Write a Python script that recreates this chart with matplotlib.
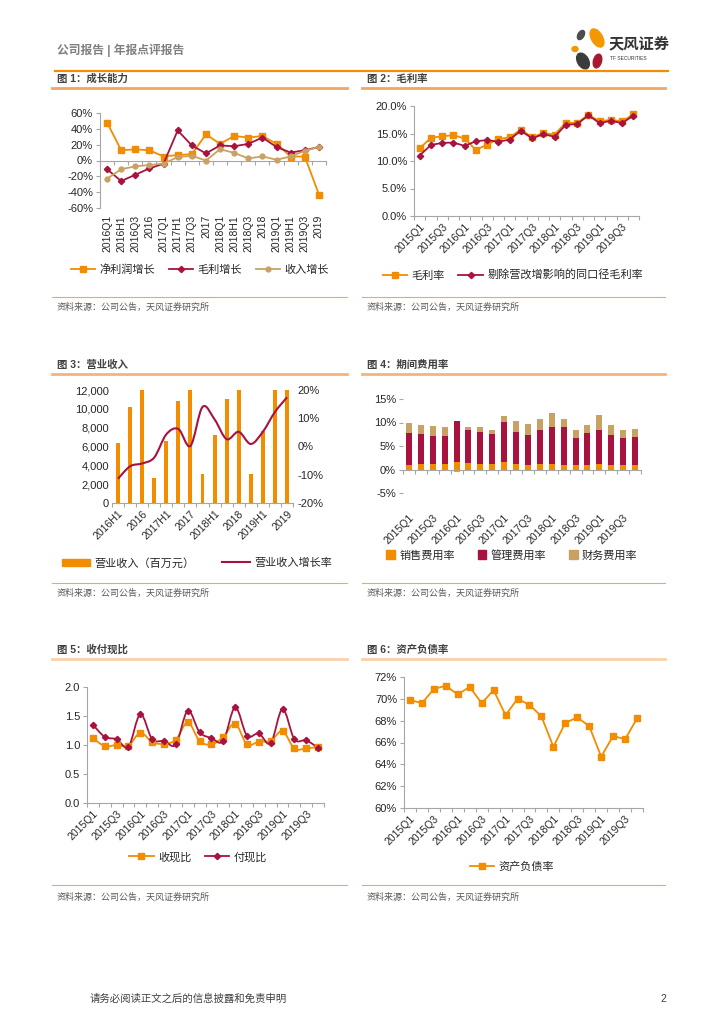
import numpy as np
import matplotlib
matplotlib.use('Agg')
import matplotlib.pyplot as plt
from matplotlib.lines import Line2D
from matplotlib.patches import Ellipse, PathPatch, Patch
from matplotlib.path import Path
from matplotlib.ticker import FuncFormatter

plt.rcParams['font.family'] = ['Liberation Sans', 'Noto Sans CJK SC']

W, H = 724, 1024
ORANGE = '#F28C00'
RED = '#A8123E'
TAN = '#C9A163'
AXIS = '#A6A6A6'
TXT = '#262626'
LINE = '#F4A460'

# ---------------- data ----------------
growth_cats = ['2016Q1', '2016H1', '2016Q3', '2016', '2017Q1', '2017H1', '2017Q3', '2017',
               '2018Q1', '2018H1', '2018Q3', '2018', '2019Q1', '2019H1', '2019Q3', '2019']
net_profit_growth = [48, 13, 14, 13, 5, 7, 8, 33, 21, 31, 29, 31, 21, 5, 5, -43]
gross_profit_growth = [-11, -26, -18, -10, -4, 38, 19, 9, 19, 18, 21, 29, 17, 10, 13, 17]
revenue_growth = [-23, -11, -7.4, -5.7, -3.9, 4.3, 6, 0, 14.3, 9.6, 2.6, 5.2, 0.9, 5.2, 12.2, 17.4]

quarters = ['2015Q1', '2015Q2', '2015Q3', '2015Q4', '2016Q1', '2016Q2', '2016Q3', '2016Q4',
            '2017Q1', '2017Q2', '2017Q3', '2017Q4', '2018Q1', '2018Q2', '2018Q3', '2018Q4',
            '2019Q1', '2019Q2', '2019Q3', '2019Q4']
gross_margin = [12.3, 14.2, 14.5, 14.7, 14.1, 12.0, 13.0, 14.0, 14.3, 15.7,
                14.3, 15.1, 14.8, 17.0, 16.9, 18.4, 17.2, 17.5, 17.2, 18.5]
gross_margin_adj = [11.0, 12.9, 13.3, 13.35, 12.75, 13.6, 13.8, 13.5, 13.9, 15.5,
                    14.1, 14.9, 14.4, 16.6, 16.7, 18.3, 16.9, 17.3, 16.9, 18.25]

rev_cats = ['2016H1', '2016Q3', '2016', '2017Q1', '2017H1', '2017Q3', '2017', '2018Q1',
            '2018H1', '2018Q3', '2018', '2019Q1', '2019H1', '2019Q3', '2019']
revenue = [6350, 10200, 12000, 2630, 6570, 10800, 12000, 3050, 7200, 11050, 12000, 3050, 7650, 12000, 12000]
revenue_rate = [-11.4, -7.0, -6.0, -3.9, 4.3, 6.2, 0.2, 14.0, 9.6, 2.6, 5.2, 0.9, 5.2, 12.2, 17.4]

sales_exp = [1.0, 1.25, 1.2, 1.1, 1.55, 1.3, 1.2, 1.1, 1.5, 1.1,
             1.0, 1.1, 1.1, 0.9, 0.9, 0.9, 1.1, 0.9, 0.9, 0.9]
admin_exp = [6.75, 6.2, 5.9, 6.0, 8.75, 7.15, 6.7, 6.4, 8.55, 6.9,
             6.4, 7.35, 8.0, 8.2, 5.85, 6.8, 7.3, 6.4, 5.85, 5.95]
fin_exp = [2.2, 2.05, 2.2, 2.0, -0.5, 0.65, 1.2, 0.95, 1.25, 2.4,
           2.3, 2.4, 2.9, 1.75, 1.7, 1.8, 3.2, 2.2, 1.75, 1.85]

cash_in_ratio = [1.12, 0.98, 1.0, 0.99, 1.21, 1.05, 1.02, 1.09, 1.39, 1.07,
                 1.01, 1.14, 1.37, 1.01, 1.06, 1.07, 1.24, 0.94, 0.94, 0.97]
cash_out_ratio = [1.35, 1.14, 1.10, 0.97, 1.53, 1.10, 1.07, 1.01, 1.59, 1.22,
                  1.12, 1.07, 1.65, 1.16, 1.20, 1.03, 1.62, 1.10, 1.08, 0.95]

debt_ratio = [69.9, 69.6, 70.9, 71.2, 70.4, 71.1, 69.6, 70.8, 68.5, 70.0,
              69.45, 68.4, 65.6, 67.8, 68.3, 67.5, 64.7, 66.6, 66.3, 68.2]

fig = plt.figure(figsize=(W / 100, H / 100), dpi=100)


def fx(x):
    return x / W


def fy(y):
    return 1 - y / H


def add_ax(x0, y0, x1, y1):
    return fig.add_axes([x0 / W, 1 - y1 / H, (x1 - x0) / W, (y1 - y0) / H])


def hline(x0, x1, y, color, lw):
    fig.add_artist(Line2D([fx(x0), fx(x1)], [fy(y), fy(y)], color=color, lw=lw,
                          transform=fig.transFigure))


def smooth_path(xs, ys):
    # Excel-like smoothed line as cubic bezier segments through the points
    verts = [(xs[0], ys[0])]
    codes = [Path.MOVETO]
    n = len(xs)
    for i in range(n - 1):
        a = max(i - 1, 0)
        b = min(i + 2, n - 1)
        c1 = (xs[i] + (xs[i + 1] - xs[a]) / 6, ys[i] + (ys[i + 1] - ys[a]) / 6)
        c2 = (xs[i + 1] - (xs[b] - xs[i]) / 6, ys[i + 1] - (ys[b] - ys[i]) / 6)
        verts += [c1, c2, (xs[i + 1], ys[i + 1])]
        codes += [Path.CURVE4] * 3
    return Path(verts, codes)


def base_style(ax, n, left=True):
    for s in ['top', 'right']:
        ax.spines[s].set_visible(False)
    ax.spines['left'].set_visible(left)
    ax.spines['left'].set_color(AXIS)
    ax.spines['bottom'].set_color(AXIS)
    ax.spines['left'].set_linewidth(0.8)
    ax.spines['bottom'].set_linewidth(0.8)
    ax.set_xlim(-0.5, n - 0.5)
    ax.tick_params(axis='y', colors=AXIS, labelcolor=TXT, labelsize=8, length=3, width=0.8, pad=2)
    ax.tick_params(axis='x', which='major', length=0, labelsize=7.5, labelcolor=TXT)
    ax.tick_params(axis='x', which='minor', length=3, color=AXIS, width=0.8)
    ax.set_xticks(np.arange(-0.5, n, 1), minor=True)
    ax.set_facecolor('none')


def zero_axis(ax, n, frac):
    ax.spines['bottom'].set_visible(False)
    ax.tick_params(axis='x', which='minor', length=0)
    sec = ax.secondary_xaxis(frac)
    sec.set_alignment('bottom')
    sec.set_xticks(np.arange(-0.5, n, 1))
    sec.set_xticklabels([])
    sec.tick_params(length=3, color=AXIS, width=0.8)
    sec.spines['bottom'].set_color(AXIS)
    sec.spines['bottom'].set_linewidth(0.8)


def rot45(ax, idx, labels, pad=4):
    ax.set_xticks(idx)
    ax.set_xticklabels(labels, rotation=45, ha='right', rotation_mode='anchor')
    ax.tick_params(axis='x', which='major', pad=pad)


def legend(handles, labels, cx, cy, ncol, **kw):
    opts = dict(loc='center', bbox_to_anchor=(fx(cx), fy(cy)), ncol=ncol, frameon=False,
                fontsize=8, handlelength=2.2, columnspacing=1.2, handletextpad=0.4,
                borderaxespad=0)
    opts.update(kw)
    leg = fig.legend(handles, labels, **opts)
    for t in leg.get_texts():
        t.set_color(TXT)


pct0 = FuncFormatter(lambda v, p: f'{v:.0f}%')
pct1 = FuncFormatter(lambda v, p: f'{v:.1f}%')

# ---------------- page frame ----------------
fig.text(fx(57), fy(50), '公司报告 | 年报点评报告', fontsize=8.5, color='#7F7F7F',
         fontweight='bold', va='center')
hline(55, 668, 71, ORANGE, 1.6)

logo = fig.add_axes([fx(565), fy(72), fx(45), 47 / H])
logo.set_xlim(565, 610)
logo.set_ylim(72, 25)
logo.axis('off')
for (cx, cy, w, h, ang, col) in [(597, 38, 11, 20, -30, '#F39800'), (597.5, 61, 8, 14, 15, '#A6192E'),
                                 (583, 61, 11, 17, -30, '#3C3C3C'), (581, 35, 6, 10, 30, '#4D4D4D'),
                                 (575, 49, 6, 5, 0, '#F39800')]:
    logo.add_patch(Ellipse((cx, cy), w, h, angle=ang, color=col))
fig.text(fx(609), fy(44), '天风证券', fontsize=11, color='#333333', fontweight='bold', va='center')
fig.text(fx(610), fy(58), 'TF SECURITIES', fontsize=3.5, color='#333333', va='center')

titles = [['图 1：成长能力', '图 2：毛利率'], ['图 3：营业收入', '图 4：期间费用率'],
          ['图 5：收付现比', '图 6：资产负债率']]
rows = [(79, 88, 297, 307), (365, 374, 583, 593), (650, 659, 885, 897)]
title_cols = ['#F4A460', '#F7B27A', '#FAD0AA']
for r, (ty, tl, sl, sy) in enumerate(rows):
    for c, (x0, x1) in enumerate([(52, 347), (362, 665)]):
        fig.text(fx(x0 + 5), fy(ty), titles[r][c], fontsize=7.5, color='#404040',
                 fontweight='bold', va='center')
        hline(x0, x1, tl, title_cols[r], 2.0)
        hline(x0, x1, sl, LINE, 0.8)
        fig.text(fx(x0 + 5), fy(sy), '资料来源：公司公告，天风证券研究所', fontsize=6.5,
                 color='#595959', va='center')

fig.text(fx(90), fy(999), '请务必阅读正文之后的信息披露和免责申明', fontsize=7.5, color='#404040', va='center')
fig.text(fx(666), fy(999), '2', fontsize=7.5, color='#404040', va='center', ha='right')

# ---------------- chart 1 ----------------
ax1 = add_ax(100, 113, 326, 208)
n1 = len(growth_cats)
x1 = np.arange(n1)
base_style(ax1, n1)
ax1.set_ylim(-60, 60)
ax1.set_yticks(np.arange(-60, 61, 20))
ax1.yaxis.set_major_formatter(pct0)
zero_axis(ax1, n1, 0.5)
ax1.plot(x1, net_profit_growth, color=ORANGE, lw=1.3, marker='s', ms=4.5)
ax1.plot(x1, gross_profit_growth, color=RED, lw=1.3, marker='D', ms=3.2)
ax1.plot(x1, revenue_growth, color=TAN, lw=1.3, marker='o', ms=3.5)
ax1.set_xticks(x1)
ax1.set_xticklabels(growth_cats, rotation=90)
ax1.tick_params(axis='x', which='major', pad=5)
legend([Line2D([], [], color=ORANGE, lw=1.3, marker='s', ms=4.5),
        Line2D([], [], color=RED, lw=1.3, marker='D', ms=3.2),
        Line2D([], [], color=TAN, lw=1.3, marker='o', ms=3.5)],
       ['净利润增长', '毛利增长', '收入增长'], 200, 270, 3)

# ---------------- chart 2 ----------------
ax2 = add_ax(414, 106, 639, 216)
nq = len(quarters)
xq = np.arange(nq)
base_style(ax2, nq)
ax2.set_ylim(0, 20)
ax2.set_yticks(np.arange(0, 20.1, 5))
ax2.yaxis.set_major_formatter(pct1)
ax2.plot(xq, gross_margin, color=ORANGE, lw=1.3, marker='s', ms=4.5)
ax2.plot(xq, gross_margin_adj, color=RED, lw=1.3, marker='D', ms=3.2)
rot45(ax2, xq[::2], quarters[::2])
legend([Line2D([], [], color=ORANGE, lw=1.3, marker='s', ms=4.5),
        Line2D([], [], color=RED, lw=1.3, marker='D', ms=3.2)],
       ['毛利率', '剔除营改增影响的同口径毛利率'], 513, 275, 2)

# ---------------- chart 3 ----------------
ax3 = add_ax(112, 390, 293, 503)
n3 = len(rev_cats)
x3 = np.arange(n3)
base_style(ax3, n3, left=False)
ax3.tick_params(axis='y', length=0)
ax3.set_ylim(0, 12000)
ax3.set_yticks(np.arange(0, 12001, 2000))
ax3.yaxis.set_major_formatter(FuncFormatter(lambda v, p: f'{v:,.0f}'))
ax3.bar(x3, revenue, width=0.33, color=ORANGE)
rot45(ax3, x3[::2], rev_cats[::2])
ax3b = ax3.twinx()
ax3b.set_ylim(-20, 20)
ax3b.set_yticks(np.arange(-20, 21, 10))
ax3b.yaxis.set_major_formatter(pct0)
for s in ['top', 'right', 'left', 'bottom']:
    ax3b.spines[s].set_visible(False)
ax3b.tick_params(axis='y', length=0, labelsize=8, labelcolor=TXT, pad=3)
ax3b.add_patch(PathPatch(smooth_path(x3, revenue_rate), fill=False, edgecolor=RED, lw=1.5))
legend([Patch(color=ORANGE), Line2D([], [], color=RED, lw=1.5)],
       ['营业收入（百万元）', '营业收入增长率'], 197, 563, 2, handlelength=2.5, columnspacing=2.5)

# ---------------- chart 4 ----------------
ax4 = add_ax(403, 399, 641, 493)
base_style(ax4, nq, left=False)
ax4.set_ylim(-5, 15)
ax4.set_yticks(np.arange(-5, 15.1, 5))
ax4.yaxis.set_major_formatter(pct0)
zero_axis(ax4, nq, 0.25)
sales = np.array(sales_exp)
admin = np.array(admin_exp)
fin = np.array(fin_exp)
ax4.bar(xq, sales, width=0.5, color=ORANGE)
ax4.bar(xq, admin, width=0.5, bottom=sales, color=RED)
ax4.bar(xq, fin, width=0.5, bottom=np.where(fin >= 0, sales + admin, 0), color=TAN)
rot45(ax4, xq[::2], quarters[::2], pad=14)
legend([Patch(color=ORANGE), Patch(color=RED), Patch(color=TAN)],
       ['销售费用率', '管理费用率', '财务费用率'], 512, 555, 3,
       handlelength=0.8, handleheight=0.8, columnspacing=2.0)

# ---------------- chart 5 ----------------
ax5 = add_ax(87, 687, 324, 803)
base_style(ax5, nq)
ax5.set_ylim(0, 2)
ax5.set_yticks(np.arange(0, 2.01, 0.5))
ax5.yaxis.set_major_formatter(FuncFormatter(lambda v, p: f'{v:.1f}'))
ax5.add_patch(PathPatch(smooth_path(xq, cash_in_ratio), fill=False, edgecolor=ORANGE, lw=1.3))
ax5.add_patch(PathPatch(smooth_path(xq, cash_out_ratio), fill=False, edgecolor=RED, lw=1.3))
ax5.plot(xq, cash_in_ratio, ls='none', color=ORANGE, marker='s', ms=4.5)
ax5.plot(xq, cash_out_ratio, ls='none', color=RED, marker='D', ms=3.2)
rot45(ax5, xq[::2], quarters[::2])
legend([Line2D([], [], color=ORANGE, lw=1.3, marker='s', ms=4.5),
        Line2D([], [], color=RED, lw=1.3, marker='D', ms=3.2)],
       ['收现比', '付现比'], 198, 857, 2)

# ---------------- chart 6 ----------------
ax6 = add_ax(404, 677, 643, 808)
base_style(ax6, nq)
ax6.set_ylim(60, 72)
ax6.set_yticks(np.arange(60, 72.1, 2))
ax6.yaxis.set_major_formatter(pct0)
ax6.plot(xq, debt_ratio, color=ORANGE, lw=1.3, marker='s', ms=4.5)
rot45(ax6, xq[::2], quarters[::2])
legend([Line2D([], [], color=ORANGE, lw=1.3, marker='s', ms=4.5)],
       ['资产负债率'], 512, 867, 1)

fig.savefig('out.png', dpi=100, facecolor='white')
